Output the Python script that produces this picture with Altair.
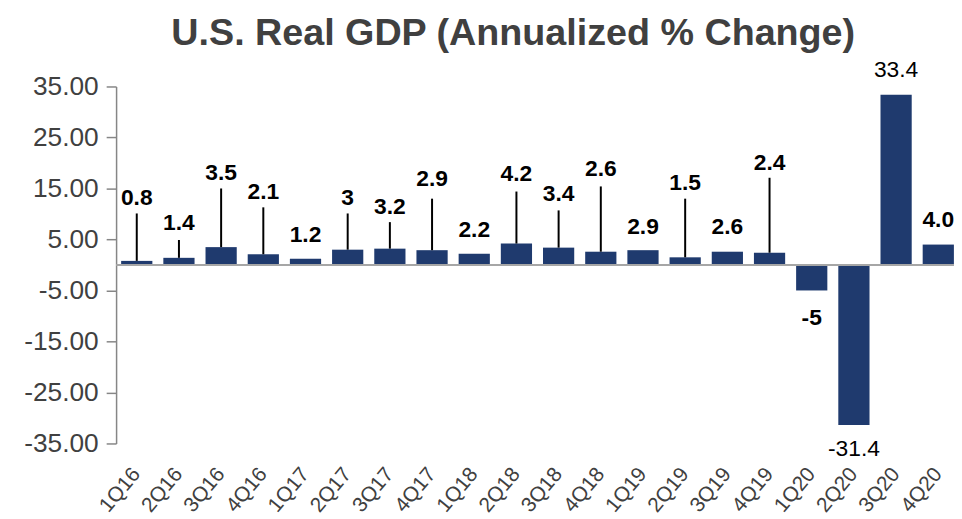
import altair as alt
import pandas as pd

quarters = ["1Q16", "2Q16", "3Q16", "4Q16", "1Q17", "2Q17", "3Q17", "4Q17",
            "1Q18", "2Q18", "3Q18", "4Q18", "1Q19", "2Q19", "3Q19", "4Q19",
            "1Q20", "2Q20", "3Q20", "4Q20"]
gdp = [0.8, 1.4, 3.5, 2.1, 1.2, 3.0, 3.2, 2.9, 2.2, 4.2, 3.4, 2.6, 2.9, 1.5,
       2.6, 2.4, -5.0, -31.4, 33.4, 4.0]
value_labels = ["0.8", "1.4", "3.5", "2.1", "1.2", "3", "3.2", "2.9", "2.2",
                "4.2", "3.4", "2.6", "2.9", "1.5", "2.6", "2.4", "-5", "-31.4",
                "33.4", "4.0"]
label_pos = [13.2, 8.2, 18.1, 14.2, 5.8, 13.2, 11.3, 16.9, 6.8, 17.9, 14.0,
             18.9, 7.4, 16.1, 7.4, 20.0, -10.5, -36.0, 38.3, 8.8]
leader_top = [10.1, 4.9, 15.0, 11.3, None, 10.1, 8.4, 13.0, None, 14.4, 10.7,
              15.4, None, 13.0, None, 17.1, None, None, None, None]
bold_label = [True] * 17 + [False, False, True]
y_ticks = [-35, -25, -15, -5, 5, 15, 25, 35]

df = pd.DataFrame({
    "quarter": quarters,
    "gdp": gdp,
    "label": value_labels,
    "label_pos": label_pos,
    "leader_top": leader_top,
    "bold": bold_label,
})

FONT = "Liberation Sans"
GREY = "#404040"

x_enc = alt.X(
    "quarter:N", sort=quarters, title=None,
    scale=alt.Scale(range=[0, 850], paddingInner=0.26, paddingOuter=0.12),
    axis=alt.Axis(labelAngle=310, labelFontSize=21, labelColor=GREY,
                  labelFont=FONT, domain=False, ticks=False, labelPadding=27),
)
y_scale = alt.Scale(domain=[-35, 35], nice=False, zero=False)

base = alt.Chart(df)

bars = base.mark_bar(color="#1f3a6e").encode(
    x=x_enc,
    y=alt.Y("gdp:Q", scale=y_scale, title=None,
            axis=alt.Axis(values=y_ticks, format=".2f",
                          labelExpr="replace(datum.label, '\u2212', '-')",
                          labelFontSize=26.5,
                          labelColor=GREY, labelFont=FONT, grid=False,
                          domainColor="#868686", domainWidth=1.5,
                          tickColor="#868686", tickWidth=1.5, tickSize=10,
                          labelPadding=8)),
)

leaders = base.transform_filter("isValid(datum.leader_top)").mark_rule(
    color="black", strokeWidth=2
).encode(
    x=alt.X("quarter:N", sort=quarters),
    y=alt.Y("gdp:Q"),
    y2="leader_top:Q",
)

zero = alt.Chart(pd.DataFrame({"z": [0]})).mark_rule(
    color="#a6a6a6", strokeWidth=2
).encode(y=alt.Y("z:Q"), x=alt.value(0), x2=alt.value(850))

labels_bold = base.transform_filter("datum.bold").mark_text(
    font=FONT, fontSize=23, fontWeight="bold", color="black",
    baseline="middle", align="center"
).encode(
    x=alt.X("quarter:N", sort=quarters),
    y=alt.Y("label_pos:Q"),
    text="label:N",
)
labels_reg = base.transform_filter("!datum.bold").mark_text(
    font=FONT, fontSize=23, fontWeight="normal", color="black",
    baseline="middle", align="center"
).encode(
    x=alt.X("quarter:N", sort=quarters),
    y=alt.Y("label_pos:Q"),
    text="label:N",
)

chart = alt.layer(bars, zero, leaders, labels_bold, labels_reg).properties(
    width=845,
    height=360,
    autosize=alt.AutoSizeParams(type="none"),
    padding={"left": 109, "top": 77, "right": 0, "bottom": 70},
    title=alt.TitleParams(
        "U.S. Real GDP (Annualized % Change)", font=FONT, fontSize=38,
        fontWeight="bold", color=GREY, anchor="middle", dx=-22, dy=-2,
    ),
).configure_view(stroke=None)

chart.save("out.html", embed_options={"renderer": "svg", "actions": False})
